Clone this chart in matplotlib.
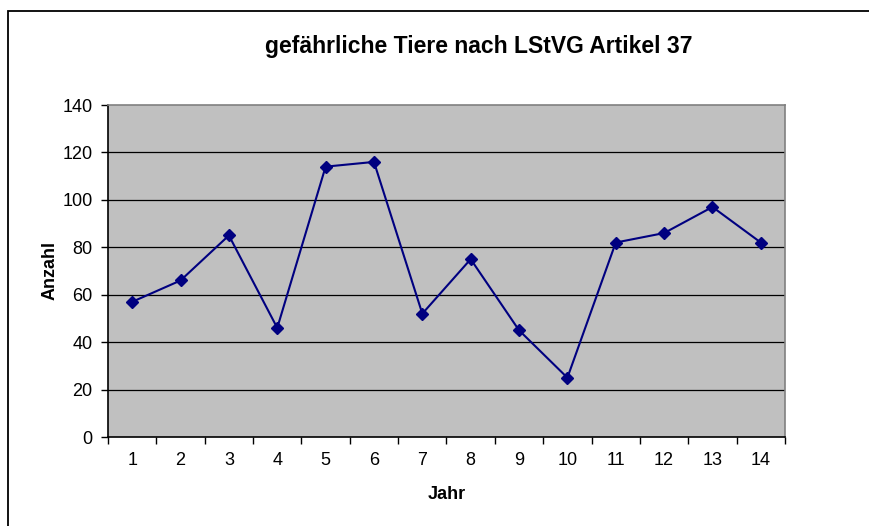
import matplotlib.pyplot as plt
from matplotlib.patches import Rectangle
import numpy as np

# data
jahre = list(range(1, 15))
anzahl = [57, 66, 85, 46, 114, 116, 52, 75, 45, 25, 82, 86, 97, 82]
y_ticks = [0, 20, 40, 60, 80, 100, 120, 140]

plt.rcParams['font.family'] = ['Liberation Sans', 'DejaVu Sans']

fig = plt.figure(figsize=(8.7, 5.26), dpi=100)
ax = fig.add_axes([108 / 870, 89 / 526, 677 / 870, 332 / 526])

# outer chart frame
fig.patches.append(Rectangle((8 / 870, -0.05), 1.1, 1 - 11 / 526 + 0.05,
                             transform=fig.transFigure, fill=False,
                             edgecolor='black', linewidth=1.3, zorder=0))

ax.set_facecolor('#C0C0C0')
for y in y_ticks[1:-1]:
    ax.axhline(y, color='black', linewidth=0.9, zorder=1)

ax.plot(jahre, anzahl, color='#000080', linewidth=1.5, marker='D',
        markersize=6.5, markerfacecolor='#000080', markeredgecolor='#000080', zorder=3)

ax.set_xlim(0.5, 14.5)
ax.set_ylim(0, 140)
ax.set_yticks(y_ticks)
ax.set_xticks(jahre)
ax.set_xticks(np.arange(0.5, 15, 1), minor=True)
ax.tick_params(axis='x', which='major', length=0, pad=11, labelsize=13)
ax.tick_params(axis='x', which='minor', length=5, direction='out', width=1)
ax.tick_params(axis='y', length=5, direction='out', width=1, pad=6, labelsize=13)

ax.spines['left'].set_color('black')
ax.spines['bottom'].set_color('black')
ax.spines['top'].set_color('#808080')
ax.spines['right'].set_color('#808080')
for s in ax.spines.values():
    s.set_linewidth(1.2)

ax.set_xlabel('Jahr', fontsize=13, fontweight='bold', labelpad=12)
ax.set_ylabel('Anzahl', fontsize=13, fontweight='bold', labelpad=3)
fig.text(479 / 870, 1 - 46 / 526, 'gefährliche Tiere nach LStVG Artikel 37',
         ha='center', va='center', fontsize=16.5, fontweight='bold')

fig.savefig('out.png', dpi=100)
